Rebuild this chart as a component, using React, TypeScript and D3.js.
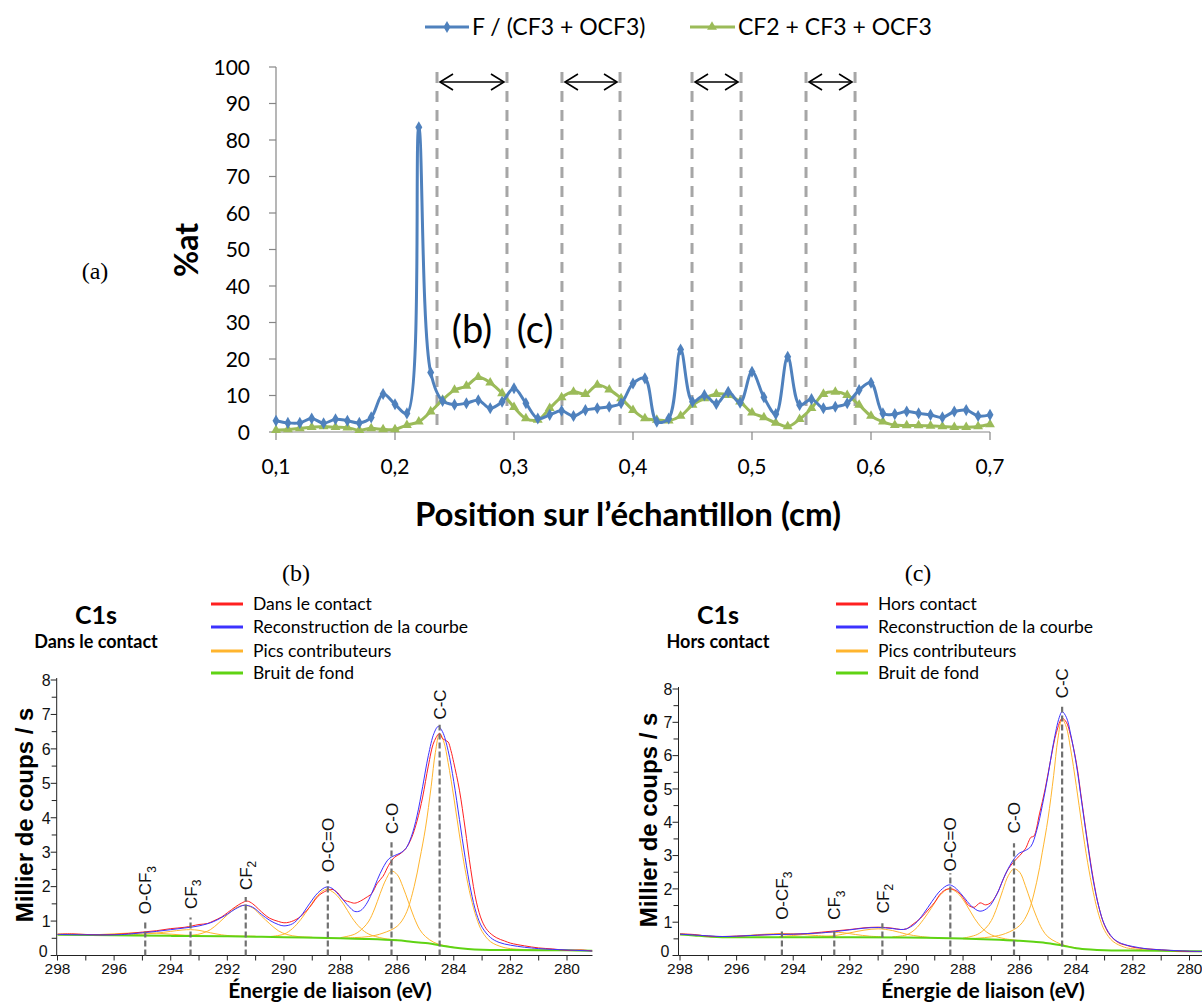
import React from 'react';
import * as d3 from 'd3';

// ---------- Top chart data (a) ----------
const positions = [0.10,0.11,0.12,0.13,0.14,0.15,0.16,0.17,0.18,0.19,0.20,0.21,0.22,0.23,0.24,0.25,0.26,0.27,0.28,0.29,0.30,0.31,0.32,0.33,0.34,0.35,0.36,0.37,0.38,0.39,0.40,0.41,0.42,0.43,0.44,0.45,0.46,0.47,0.48,0.49,0.50,0.51,0.52,0.53,0.54,0.55,0.56,0.57,0.58,0.59,0.60,0.61,0.62,0.63,0.64,0.65,0.66,0.67,0.68,0.69,0.70];
const fRatio = [3.1,2.5,2.5,3.7,2.4,3.5,3.1,2.5,4.0,10.4,7.6,5.1,83.5,16.3,8.5,7.5,7.9,8.7,6.5,8.3,12.0,7.9,3.7,4.7,5.8,4.4,6.0,6.5,6.9,7.9,13.3,14.7,2.8,3.7,22.6,8.3,10.1,7.7,11.0,8.0,16.5,9.5,4.9,20.6,7.4,9.0,6.5,6.9,7.9,11.5,13.5,5.1,4.9,5.6,5.1,4.7,4.0,5.6,6.0,4.4,4.7];
const cfSum = [0.5,0.7,1.0,1.3,1.5,1.3,1.2,0.5,1.0,0.7,0.7,1.9,2.8,5.6,8.8,11.5,12.6,15.0,13.5,10.6,6.8,3.7,3.3,6.5,9.5,11.0,10.4,12.9,11.6,9.2,6.0,3.7,3.3,3.1,4.4,7.4,9.2,10.4,10.1,8.3,5.3,4.0,2.5,1.5,3.5,6.5,10.4,11.0,10.1,7.4,4.4,2.8,1.9,1.8,1.8,1.7,1.5,1.3,1.3,1.5,2.1];
const zoneBounds = [0.2353,0.2941,0.3403,0.3891,0.4496,0.4908,0.5454,0.5866];
const topYTicks = [0,10,20,30,40,50,60,70,80,90,100];
const topXTicks = [0.1,0.2,0.3,0.4,0.5,0.6,0.7];
const topLegend = ['F / (CF3 + OCF3)', 'CF2 + CF3 + OCF3'];

// ---------- Bottom-left spectrum (b) ----------
const inRaw: [number, number][] = [[298,0.62],[297.5,0.63],[297,0.61],[296.5,0.6],[296,0.61],[295.5,0.64],[295,0.68],[294.5,0.72],[294,0.78],[293.5,0.82],[293,0.9],[292.7,0.93],[292.5,1.0],[292.2,1.12],[292,1.24],[291.7,1.42],[291.5,1.52],[291.3,1.58],[291.1,1.5],[290.9,1.35],[290.7,1.2],[290.5,1.08],[290.2,0.99],[290,0.95],[289.8,0.97],[289.5,1.08],[289.2,1.3],[289,1.5],[288.8,1.72],[288.5,1.88],[288.3,1.92],[288.1,1.82],[287.9,1.62],[287.7,1.56],[287.5,1.52],[287.3,1.58],[287.1,1.68],[286.9,1.8],[286.7,2.1],[286.5,2.3],[286.3,2.62],[286.1,2.85],[285.9,2.95],[285.7,3.1],[285.5,3.4],[285.3,3.9],[285.1,4.6],[284.9,5.5],[284.7,6.2],[284.5,6.45],[284.4,6.3],[284.3,6.25],[284.2,6.2],[284.1,5.95],[284,5.6],[283.8,4.8],[283.6,3.7],[283.4,2.5],[283.2,1.55],[283,1.0],[282.8,0.72],[282.5,0.52],[282.2,0.42],[282,0.36],[281.5,0.28],[281,0.22],[280.5,0.19],[280,0.15],[279.5,0.16],[279.1,0.13]];
const inFit: [number, number][] = [[298,0.61],[297,0.6],[296,0.6],[295.5,0.62],[295,0.66],[294.5,0.7],[294,0.75],[293.5,0.8],[293,0.86],[292.5,0.98],[292,1.2],[291.7,1.36],[291.4,1.46],[291.1,1.4],[290.8,1.2],[290.5,1.02],[290.2,0.9],[290,0.86],[289.7,0.92],[289.4,1.15],[289.1,1.5],[288.8,1.82],[288.5,1.99],[288.3,1.95],[288,1.7],[287.7,1.42],[287.5,1.28],[287.3,1.3],[287.1,1.48],[286.9,1.8],[286.7,2.2],[286.5,2.55],[286.3,2.8],[286.1,2.9],[285.9,2.97],[285.7,3.1],[285.5,3.45],[285.3,4.05],[285.1,4.9],[284.9,5.8],[284.7,6.45],[284.55,6.65],[284.4,6.5],[284.2,5.95],[284,5.05],[283.8,3.95],[283.6,2.85],[283.4,1.9],[283.2,1.22],[283,0.82],[282.7,0.52],[282.4,0.38],[282,0.3],[281.5,0.24],[281,0.2],[280,0.16],[279.1,0.13]];
const inBg: [number, number][] = [[298,0.6],[296,0.59],[294,0.57],[292,0.56],[290,0.53],[288,0.5],[287,0.48],[286,0.44],[285.5,0.4],[285,0.36],[284.5,0.3],[284,0.23],[283.5,0.19],[283,0.17],[282,0.16],[280,0.15],[279.1,0.14]];
const inPeakCC: [number, number][] = [[288,0.5],[287.5,0.52],[287,0.55],[286.5,0.65],[286,0.85],[285.7,1.2],[285.4,2.0],[285.2,2.8],[285,3.7],[284.8,4.9],[284.65,5.9],[284.5,6.45],[284.35,6.2],[284.2,5.6],[284,4.6],[283.8,3.5],[283.6,2.5],[283.4,1.7],[283.2,1.1],[283,0.7],[282.7,0.4],[282.3,0.25],[282,0.2],[281,0.16],[280,0.15]];
const inPeakCO: [number, number][] = [[288,0.52],[287.5,0.62],[287.2,0.8],[287,1.0],[286.8,1.35],[286.6,1.8],[286.4,2.2],[286.2,2.45],[286,2.35],[285.8,2.0],[285.6,1.55],[285.4,1.1],[285.2,0.75],[285,0.55],[284.7,0.38],[284.4,0.3],[284,0.24]];
const inPeakOCO: [number, number][] = [[290.5,0.55],[290,0.62],[289.7,0.78],[289.4,1.05],[289.1,1.4],[288.8,1.75],[288.5,1.92],[288.2,1.8],[287.9,1.5],[287.6,1.1],[287.3,0.8],[287,0.62],[286.5,0.5],[286,0.45]];
const inPeakCF2: [number, number][] = [[293.5,0.58],[293,0.62],[292.6,0.75],[292.3,0.95],[292,1.18],[291.7,1.38],[291.4,1.46],[291.1,1.38],[290.8,1.15],[290.5,0.92],[290.2,0.72],[289.9,0.61],[289.5,0.55],[289,0.53]];
const inPeakCF3: [number, number][] = [[295.5,0.6],[295,0.62],[294.5,0.65],[294,0.7],[293.6,0.74],[293.3,0.75],[293,0.73],[292.6,0.66],[292.2,0.6],[291.8,0.57],[291,0.56]];
const inPeakOCF3: [number, number][] = [[297,0.6],[296.5,0.61],[296,0.63],[295.5,0.65],[295,0.66],[294.5,0.65],[294,0.62],[293.5,0.59],[293,0.57]];
// [label, subscript, energy, dashed line top, label start]
const inMarks: [string, string, number, number, number][] = [
  ['O-CF', '3', 294.9, 0.96, 1.2],
  ['CF', '3', 293.3, 1.1, 1.35],
  ['CF', '2', 291.35, 1.7, 1.9],
  ['O-C=O', '', 288.45, 2.18, 2.42],
  ['C-O', '', 286.2, 3.29, 3.53],
  ['C-C', '', 284.5, 6.7, 6.85],
];

// ---------- Bottom-right spectrum (c) ----------
const outRaw: [number, number][] = [[298,0.65],[297.5,0.63],[297,0.58],[296.5,0.57],[296,0.58],[295.5,0.6],[295,0.62],[294.5,0.64],[294,0.64],[293.5,0.66],[293,0.7],[292.5,0.74],[292,0.78],[291.5,0.83],[291,0.85],[290.5,0.82],[290.2,0.78],[290,0.8],[289.8,0.92],[289.5,1.12],[289.2,1.4],[289,1.6],[288.8,1.85],[288.6,1.98],[288.4,2.0],[288.2,1.92],[288,1.74],[287.8,1.5],[287.6,1.45],[287.4,1.58],[287.2,1.52],[287,1.6],[286.8,1.85],[286.6,2.25],[286.4,2.6],[286.2,2.82],[286,3.0],[285.8,3.2],[285.6,3.55],[285.5,3.58],[285.3,4.25],[285.1,5.0],[284.9,5.9],[284.7,6.7],[284.5,7.12],[284.35,7.0],[284.2,6.6],[284,5.8],[283.8,4.6],[283.6,3.4],[283.4,2.3],[283.2,1.45],[283,0.9],[282.8,0.6],[282.5,0.38],[282.2,0.3],[282,0.25],[281.5,0.2],[281,0.17],[280.5,0.14],[280,0.12],[279.4,0.12]];
const outFit: [number, number][] = [[298,0.64],[297,0.59],[296.5,0.57],[296,0.58],[295,0.62],[294,0.64],[293,0.68],[292.5,0.72],[292,0.77],[291.5,0.82],[291,0.84],[290.5,0.81],[290.2,0.78],[290,0.8],[289.7,0.95],[289.4,1.25],[289.1,1.62],[288.8,1.95],[288.5,2.12],[288.3,2.05],[288,1.78],[287.7,1.48],[287.4,1.33],[287.1,1.45],[286.8,1.85],[286.5,2.45],[286.2,2.9],[286,3.08],[285.8,3.15],[285.6,3.28],[285.4,3.75],[285.2,4.5],[285,5.4],[284.8,6.4],[284.6,7.15],[284.5,7.32],[284.35,7.15],[284.2,6.65],[284,5.75],[283.8,4.55],[283.6,3.35],[283.4,2.25],[283.2,1.45],[283,0.92],[282.7,0.52],[282.4,0.36],[282,0.27],[281.5,0.2],[281,0.17],[280,0.13],[279.4,0.12]];
const outBg: [number, number][] = [[298,0.63],[297.5,0.6],[297,0.57],[296.5,0.55],[294,0.55],[292,0.55],[290,0.54],[288,0.51],[287,0.48],[286,0.44],[285.5,0.41],[285,0.37],[284.5,0.3],[284,0.22],[283.5,0.18],[283,0.16],[282,0.15],[280,0.13],[279.4,0.13]];
const outPeakCC: [number, number][] = [[288,0.5],[287.5,0.52],[287,0.56],[286.5,0.66],[286,0.9],[285.7,1.3],[285.4,2.2],[285.2,3.1],[285,4.1],[284.8,5.4],[284.65,6.5],[284.5,7.1],[284.35,6.85],[284.2,6.2],[284,5.1],[283.8,3.9],[283.6,2.8],[283.4,1.9],[283.2,1.2],[283,0.75],[282.7,0.42],[282.3,0.25],[282,0.2],[281,0.15],[280,0.13]];
const outPeakCO: [number, number][] = [[288,0.52],[287.5,0.63],[287.2,0.82],[287,1.05],[286.8,1.45],[286.6,1.95],[286.4,2.4],[286.2,2.6],[286,2.5],[285.8,2.1],[285.6,1.6],[285.4,1.15],[285.2,0.78],[285,0.56],[284.7,0.4],[284.4,0.3],[284,0.23]];
const outPeakOCO: [number, number][] = [[290.5,0.56],[290,0.62],[289.7,0.78],[289.4,1.08],[289.1,1.45],[288.8,1.82],[288.5,2.0],[288.2,1.88],[287.9,1.55],[287.6,1.12],[287.3,0.8],[287,0.62],[286.5,0.5],[286,0.45]];
const outPeakCF2: [number, number][] = [[293,0.56],[292.5,0.6],[292,0.68],[291.5,0.76],[291,0.8],[290.5,0.75],[290,0.64],[289.5,0.57],[289,0.53]];
const outPeakCF3: [number, number][] = [[294.5,0.57],[294,0.6],[293.5,0.64],[293,0.68],[292.6,0.7],[292.2,0.68],[291.8,0.63],[291.3,0.58],[290.8,0.56]];
const outPeakOCF3: [number, number][] = [[296.5,0.56],[296,0.58],[295.5,0.61],[295,0.64],[294.4,0.66],[293.8,0.64],[293.2,0.6],[292.5,0.57]];
const outMarks: [string, string, number, number, number][] = [
  ['O-CF', '3', 294.4, 0.72, 1.07],
  ['CF', '3', 292.55, 0.77, 1.07],
  ['CF', '2', 290.85, 0.97, 1.27],
  ['O-C=O', '', 288.45, 2.47, 2.52],
  ['C-O', '', 286.2, 3.37, 3.67],
  ['C-C', '', 284.5, 7.47, 7.72],
];

const specXTicksMajor = [298,296,294,292,290,288,286,284,282,280];
const specXTicksMinor = [298,297,296,295,294,293,292,291,290,289,288,287,286,285,284,283,282,281,280,279];
const specYTicksMajor = [0,1,2,3,4,5,6,7,8];
const specYTicksMinor = [0.5,1.5,2.5,3.5,4.5,5.5,6.5,7.5];

const CAL = 'Lato, "Open Sans", sans-serif';
const ARIAL = '"Liberation Sans", Arial, sans-serif';

const COL_RAW = '#FF2020';
const COL_FIT = '#3C32FF';
const COL_PEAK = '#FFB52E';
const COL_BG = '#5FD313';

function TopChart() {
  const x = d3.scaleLinear().domain([0.1, 0.7]).range([276, 990]);
  const y = d3.scaleLinear().domain([0, 100]).range([432, 67]);
  const line = d3.line<number>().x((_, i) => x(positions[i])).y((d) => y(d)).curve(d3.curveCatmullRom.alpha(0.5));
  const diamond = d3.symbol().type(d3.symbolDiamond).size(42)() as string;
  const tri = d3.symbol().type(d3.symbolTriangle).size(42)() as string;
  const fmt = (v: number) => d3.format('.1f')(v).replace('.', ',');
  const arrowY = 82;
  const pairs = [0, 2, 4, 6].map((i) => [zoneBounds[i], zoneBounds[i + 1]]);
  return (
    <g>
      {/* legend */}
      <line x1={425} x2={469} y1={27} y2={27} stroke="#4F81BD" strokeWidth={3} />
      <path d={diamond} transform="translate(447,27)" fill="#4F81BD" />
      <text x={472} y={27} dy="0.35em" fontFamily={CAL} fontSize={23} fill="#000">{topLegend[0]}</text>
      <line x1={690} x2={735} y1={27} y2={27} stroke="#9BBB59" strokeWidth={3} />
      <path d={tri} transform="translate(712,27)" fill="#9BBB59" />
      <text x={738} y={27} dy="0.35em" fontFamily={CAL} fontSize={23} fill="#000">{topLegend[1]}</text>

      {/* axes */}
      <line x1={276} x2={276} y1={y(100)} y2={y(0)} stroke="#868686" strokeWidth={1.2} />
      {topYTicks.map((t) => (
        <g key={'yt' + t}>
          <line x1={269} x2={276} y1={y(t)} y2={y(t)} stroke="#868686" strokeWidth={1.2} />
          <text x={250} y={y(t)} dy="0.36em" textAnchor="end" fontFamily={CAL} fontSize={21} fill="#000">{t}</text>
        </g>
      ))}
      <line x1={276} x2={990} y1={432} y2={432} stroke="#868686" strokeWidth={1.2} />
      {topXTicks.map((t) => (
        <g key={'xt' + t}>
          <line x1={x(t)} x2={x(t)} y1={432} y2={440} stroke="#868686" strokeWidth={1.2} />
          <text x={x(t)} y={466} dy="0.36em" textAnchor="middle" fontFamily={CAL} fontSize={21} fill="#000">{fmt(t)}</text>
        </g>
      ))}
      <text x={628} y={514} dy="0.36em" textAnchor="middle" fontFamily={CAL} fontWeight={700} fontSize={33} fill="#000">Position sur l’échantillon (cm)</text>
      <text transform="translate(186,250) rotate(-90)" dy="0.36em" textAnchor="middle" fontFamily={CAL} fontWeight={700} fontSize={32} fill="#000">%at</text>

      {/* zone dashed lines */}
      {zoneBounds.map((b, i) => (
        <line key={'z' + i} x1={x(b)} x2={x(b)} y1={72} y2={430} stroke="#A6A6A6" strokeWidth={3} strokeDasharray="11 8" />
      ))}
      {pairs.map(([a, b], i) => {
        const xa = x(a) + 3, xb = x(b) - 3;
        return (
          <g key={'ar' + i} fill="none" stroke="#000" strokeWidth={1.6}>
            <line x1={xa} x2={xb} y1={arrowY} y2={arrowY} />
            <path d={`M${xa + 13},${arrowY - 8} L${xa},${arrowY} L${xa + 13},${arrowY + 8}`} />
            <path d={`M${xb - 13},${arrowY - 8} L${xb},${arrowY} L${xb - 13},${arrowY + 8}`} />
          </g>
        );
      })}
      <text x={472} y={329} dy="0.36em" textAnchor="middle" fontFamily={CAL} fontSize={38} fill="#000">(b)</text>
      <text x={535} y={329} dy="0.36em" textAnchor="middle" fontFamily={CAL} fontSize={38} fill="#000">(c)</text>

      {/* series */}
      <path d={line(cfSum) as string} fill="none" stroke="#9BBB59" strokeWidth={3} />
      {cfSum.map((v, i) => (
        <path key={'g' + i} d={tri} transform={`translate(${x(positions[i])},${y(v)})`} fill="#9BBB59" />
      ))}
      <path d={line(fRatio) as string} fill="none" stroke="#4F81BD" strokeWidth={3} />
      {fRatio.map((v, i) => (
        <path key={'b' + i} d={diamond} transform={`translate(${x(positions[i])},${y(v)})`} fill="#4F81BD" />
      ))}
    </g>
  );
}

type Spec = {
  id: string;
  x298: number; x280: number; axisL: number; axisR: number;
  y0: number; y8: number;
  raw: [number, number][]; fit: [number, number][]; bg: [number, number][];
  peaks: [number, number][][];
  marks: [string, string, number, number, number][];
  title: string; rawName: string;
  titleX: number; legendX: number; yTitleX: number; yTitleY: number; xTitleX: number;
};

function Spectrum({ s }: { s: Spec }) {
  const x = d3.scaleLinear().domain([298, 280]).range([s.x298, s.x280]);
  const y = d3.scaleLinear().domain([0, 8]).range([s.y0, s.y8]);
  const line = d3.line<[number, number]>().x((d) => x(d[0])).y((d) => y(d[1])).curve(d3.curveCatmullRom.alpha(0.5));
  const legend: [string, string][] = [
    [s.rawName, COL_RAW],
    ['Reconstruction de la courbe', COL_FIT],
    ['Pics contributeurs', COL_PEAK],
    ['Bruit de fond', COL_BG],
  ];
  const rows = [604, 627, 651, 673];
  return (
    <g>
      <defs>
        <clipPath id={'clip' + s.id}>
          <rect x={s.axisL} y={s.y8 - 30} width={s.axisR - s.axisL} height={s.y0 - s.y8 + 30} />
        </clipPath>
      </defs>
      <text x={s.titleX} y={615} dy="0.36em" textAnchor="middle" fontFamily={CAL} fontWeight={700} fontSize={25} fill="#000">C1s</text>
      <text x={s.titleX} y={642} dy="0.36em" textAnchor="middle" fontFamily={CAL} fontWeight={700} fontSize={18} fill="#000">{s.title}</text>
      {legend.map(([name, c], i) => (
        <g key={name}>
          <line x1={s.legendX} x2={s.legendX + 32} y1={rows[i]} y2={rows[i]} stroke={c} strokeWidth={3} />
          <text x={s.legendX + 42} y={rows[i]} dy="0.36em" fontFamily={CAL} fontSize={17.5} fill="#000">{name}</text>
        </g>
      ))}

      {/* axes */}
      <line x1={s.axisL} x2={s.axisL} y1={y(8) - 2} y2={y(0)} stroke="#222" strokeWidth={1} />
      <line x1={s.axisL} x2={s.axisR} y1={y(0)} y2={y(0)} stroke="#222" strokeWidth={1} />
      {specYTicksMajor.map((t) => (
        <g key={'ym' + t}>
          <line x1={s.axisL - 6} x2={s.axisL} y1={y(t)} y2={y(t)} stroke="#222" />
          <text x={t === 0 ? s.axisL - 9 : s.axisL - 6} y={y(t)} dy={t === 0 ? '0.1em' : '0.36em'} textAnchor="end" fontFamily={ARIAL} fontSize={16} fill="#111">{t}</text>
        </g>
      ))}
      {specYTicksMinor.map((t) => (
        <line key={'yn' + t} x1={s.axisL - 5} x2={s.axisL} y1={y(t)} y2={y(t)} stroke="#222" />
      ))}
      {specXTicksMinor.filter((t) => x(t) <= s.axisR && x(t) >= s.axisL - 1).map((t) => (
        <line key={'xn' + t} x1={x(t)} x2={x(t)} y1={y(0)} y2={y(0) + 5} stroke="#222" />
      ))}
      {specXTicksMajor.map((t) => (
        <text key={'xm' + t} x={x(t)} y={968} dy="0.36em" textAnchor="middle" fontFamily={ARIAL} fontSize={15.5} fill="#111">{t}</text>
      ))}
      <text transform={`translate(${s.yTitleX},${s.yTitleY}) rotate(-90)`} dy="0.36em" textAnchor="middle" fontFamily={ARIAL} fontWeight={700} fontSize={24} fill="#000">Millier de coups / s</text>
      <text x={s.xTitleX} y={990} dy="0.36em" textAnchor="middle" fontFamily={CAL} fontWeight={700} fontSize={21} fill="#000">Énergie de liaison (eV)</text>

      {/* curves */}
      <g clipPath={`url(#clip${s.id})`} fill="none">
        {s.peaks.map((p, i) => (
          <path key={'pk' + i} d={line(p) as string} stroke={COL_PEAK} strokeWidth={1} />
        ))}
        <path d={line(s.bg) as string} stroke={COL_BG} strokeWidth={2} />
        <path d={line(s.raw) as string} stroke={COL_RAW} strokeWidth={1} />
        <path d={line(s.fit) as string} stroke={COL_FIT} strokeWidth={1} />
      </g>

      {/* peak markers */}
      {s.marks.map(([lab, sub, e, top, start]) => (
        <g key={lab + sub + e}>
          <line x1={x(e)} x2={x(e)} y1={y(0)} y2={y(top)} stroke="#707070" strokeWidth={2.2} strokeDasharray="6 3" />
          <text transform={`translate(${x(e)},${y(start)}) rotate(-90)`} dy="0.36em" fontFamily={ARIAL} fontSize={17} fill="#111">
            {lab}
            {sub ? <tspan dy="0.35em" fontSize={12}>{sub}</tspan> : null}
          </text>
        </g>
      ))}
    </g>
  );
}

const leftSpec: Spec = {
  id: 'L', x298: 57.5, x280: 567, axisL: 56.7, axisR: 592.5, y0: 955.5, y8: 680,
  raw: inRaw, fit: inFit, bg: inBg,
  peaks: [inPeakOCF3, inPeakCF3, inPeakCF2, inPeakOCO, inPeakCO, inPeakCC],
  marks: inMarks, title: 'Dans le contact', rawName: 'Dans le contact',
  titleX: 96, legendX: 211, yTitleX: 24, yTitleY: 815, xTitleX: 330,
};
const rightSpec: Spec = {
  id: 'R', x298: 680, x280: 1189.5, axisL: 678.5, axisR: 1202, y0: 955.5, y8: 689,
  raw: outRaw, fit: outFit, bg: outBg,
  peaks: [outPeakOCF3, outPeakCF3, outPeakCF2, outPeakOCO, outPeakCO, outPeakCC],
  marks: outMarks, title: 'Hors contact', rawName: 'Hors contact',
  titleX: 718, legendX: 836, yTitleX: 648, yTitleY: 820, xTitleX: 983,
};

export default function App() {
  return (
    <svg width={1202} height={1003} style={{ position: 'absolute', left: 0, top: 0, background: '#fff' }}>
      <rect width={1202} height={1003} fill="#fff" />
      <TopChart />
      <text x={95} y={270} dy="0.36em" textAnchor="middle" fontFamily='"Liberation Serif", "Times New Roman", serif' fontSize={24} fill="#000">(a)</text>
      <text x={296} y={572} dy="0.36em" textAnchor="middle" fontFamily='"Liberation Serif", "Times New Roman", serif' fontSize={24} fill="#000">(b)</text>
      <text x={918} y={572} dy="0.36em" textAnchor="middle" fontFamily='"Liberation Serif", "Times New Roman", serif' fontSize={24} fill="#000">(c)</text>
      <Spectrum s={leftSpec} />
      <Spectrum s={rightSpec} />
    </svg>
  );
}
